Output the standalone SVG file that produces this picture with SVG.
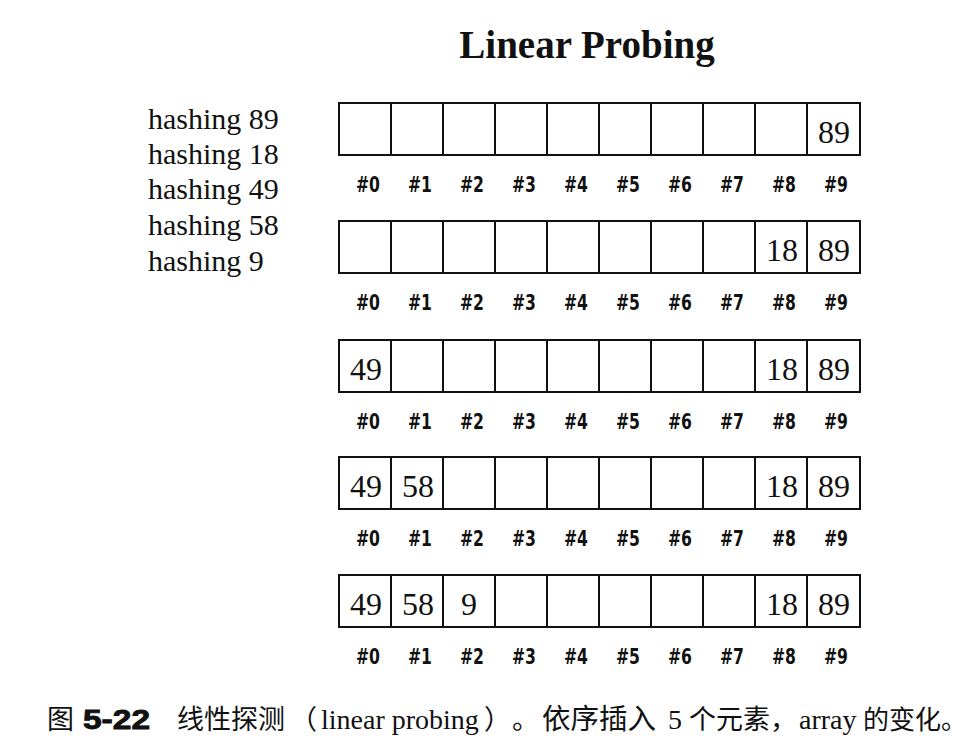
<svg xmlns="http://www.w3.org/2000/svg" width="976" height="750" viewBox="0 0 976 750">
<defs>
<style>
.cell{fill:#fff;stroke:#111;stroke-width:2}
.val{font-family:"Liberation Serif","Times New Roman",serif;font-size:32px;fill:#111;text-anchor:middle}
.idx{font-family:"DejaVu Sans",sans-serif;font-weight:bold;font-size:21px;fill:#111;text-anchor:middle}
.lbl{font-family:"Liberation Serif","Times New Roman",serif;font-size:30px;fill:#111}
.title{font-family:"Liberation Serif","Times New Roman",serif;font-size:39px;font-weight:bold;fill:#111;text-anchor:middle}
.cap{font-family:"Noto Sans CJK SC",sans-serif;font-size:27px;fill:#111}
.lat{font-family:"Liberation Serif","Times New Roman",serif;font-size:28px}
.capnum{font-family:"Liberation Sans",Arial,sans-serif;font-weight:900;font-size:28px;stroke:#111;stroke-width:0.9}
</style>
<g id="cells">
<rect class="cell" x="339" y="0" width="52" height="52"/>
<rect class="cell" x="391" y="0" width="52" height="52"/>
<rect class="cell" x="443" y="0" width="52" height="52"/>
<rect class="cell" x="495" y="0" width="52" height="52"/>
<rect class="cell" x="547" y="0" width="52" height="52"/>
<rect class="cell" x="599" y="0" width="52" height="52"/>
<rect class="cell" x="651" y="0" width="52" height="52"/>
<rect class="cell" x="703" y="0" width="52" height="52"/>
<rect class="cell" x="755" y="0" width="52" height="52"/>
<rect class="cell" x="807" y="0" width="53" height="52"/>
<text class="idx" x="368" y="89" textLength="24" lengthAdjust="spacingAndGlyphs">#0</text>
<text class="idx" x="420" y="89" textLength="24" lengthAdjust="spacingAndGlyphs">#1</text>
<text class="idx" x="472" y="89" textLength="24" lengthAdjust="spacingAndGlyphs">#2</text>
<text class="idx" x="524" y="89" textLength="24" lengthAdjust="spacingAndGlyphs">#3</text>
<text class="idx" x="576" y="89" textLength="24" lengthAdjust="spacingAndGlyphs">#4</text>
<text class="idx" x="628" y="89" textLength="24" lengthAdjust="spacingAndGlyphs">#5</text>
<text class="idx" x="680" y="89" textLength="24" lengthAdjust="spacingAndGlyphs">#6</text>
<text class="idx" x="732" y="89" textLength="24" lengthAdjust="spacingAndGlyphs">#7</text>
<text class="idx" x="784" y="89" textLength="24" lengthAdjust="spacingAndGlyphs">#8</text>
<text class="idx" x="836" y="89" textLength="24" lengthAdjust="spacingAndGlyphs">#9</text>
</g>
</defs>
<text class="title" x="587" y="58">Linear Probing</text>
<g id="labels">
<text class="lbl" x="148" y="129">hashing 89</text>
<text class="lbl" x="148" y="164">hashing 18</text>
<text class="lbl" x="148" y="199">hashing 49</text>
<text class="lbl" x="148" y="235">hashing 58</text>
<text class="lbl" x="148" y="271">hashing 9</text>
</g>
<g id="array1" transform="translate(0,103)">
<use href="#cells"/>
<text class="val" x="834" y="40">89</text>
</g>
<g id="array2" transform="translate(0,221)">
<use href="#cells"/>
<text class="val" x="782" y="40">18</text>
<text class="val" x="834" y="40">89</text>
</g>
<g id="array3" transform="translate(0,340)">
<use href="#cells"/>
<text class="val" x="366" y="40">49</text>
<text class="val" x="782" y="40">18</text>
<text class="val" x="834" y="40">89</text>
</g>
<g id="array4" transform="translate(0,457)">
<use href="#cells"/>
<text class="val" x="366" y="40">49</text>
<text class="val" x="418" y="40">58</text>
<text class="val" x="782" y="40">18</text>
<text class="val" x="834" y="40">89</text>
</g>
<g id="array5" transform="translate(0,575)">
<use href="#cells"/>
<text class="val" x="366" y="40">49</text>
<text class="val" x="418" y="40">58</text>
<text class="val" x="469" y="40">9</text>
<text class="val" x="782" y="40">18</text>
<text class="val" x="834" y="40">89</text>
</g>
<g id="caption">
<text class="cap" y="729"><tspan x="47">图</tspan><tspan class="capnum" x="83" textLength="67" lengthAdjust="spacingAndGlyphs">5-22</tspan><tspan x="177">线性探测</tspan><tspan x="290">（</tspan><tspan class="lat" x="321">linear probing</tspan><tspan x="484">）</tspan><tspan x="512">。</tspan><tspan x="542" font-size="28.5">依序插入</tspan><tspan class="lat" x="668">5</tspan><tspan x="689">个元素，</tspan><tspan class="lat" x="799" font-size="27">array</tspan><tspan x="863" font-size="26">的变化。</tspan></text>
</g>
</svg>
